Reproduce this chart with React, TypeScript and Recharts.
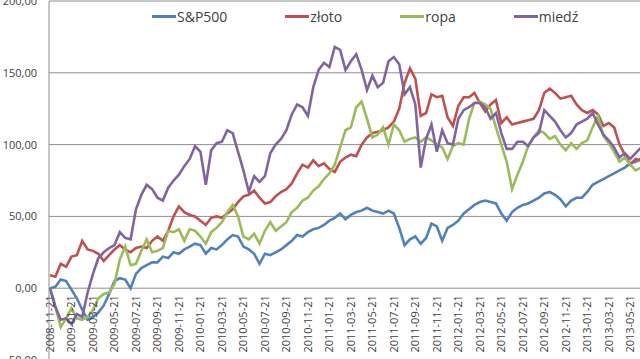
import { LineChart, Line, XAxis, YAxis, CartesianGrid, Legend } from 'recharts'

// tygodniowe notowania zebrane co pół miesiąca, zmiana w % od 2008-11-21
const FIRST_DATE = '2008-11-21'
const LAST_DATE = '2013-06-21'

const TICK_LABELS = [
  '2008-11-21', '2009-01-21', '2009-03-21', '2009-05-21', '2009-07-21', '2009-09-21', '2009-11-21',
  '2010-01-21', '2010-03-21', '2010-05-21', '2010-07-21', '2010-09-21', '2010-11-21',
  '2011-01-21', '2011-03-21', '2011-05-21', '2011-07-21', '2011-09-21', '2011-11-21',
  '2012-01-21', '2012-03-21', '2012-05-21', '2012-07-21', '2012-09-21', '2012-11-21',
  '2013-01-21', '2013-03-21', '2013-05-21',
]

const SP500 = [
  0, 1, 6, 5, -1, -7, -15, -22, -20, -17,
  -12, -4, 5, 7, 6, 0, 10, 14, 16, 18,
  18, 22, 21, 25, 24, 27, 29, 31, 30, 24,
  28, 27, 30, 34, 37, 36, 29, 27, 24, 17,
  24, 23, 25, 27, 30, 33, 37, 36, 39, 41,
  42, 44, 47, 49, 52, 48, 51, 53, 54, 56,
  54, 53, 52, 54, 52, 42, 30, 34, 36, 31,
  35, 45, 43, 33, 42, 44, 47, 52, 55, 58,
  60, 61, 60, 59, 52, 47, 53, 56, 58, 59,
  61, 63, 66, 67, 65, 62, 57, 61, 63, 63,
  67, 72, 74, 76, 78, 80, 82, 84, 87, 88, 90,
]

const ZLOTO = [
  9, 8, 17, 15, 22, 23, 33, 27, 26, 24,
  19, 23, 27, 30, 27, 25, 28, 29, 28, 33,
  36, 33, 40, 50, 57, 53, 51, 50, 47, 44,
  49, 50, 49, 52, 55, 60, 64, 65, 68, 63,
  59, 60, 64, 67, 69, 73, 80, 86, 84, 89,
  85, 87, 83, 81, 88, 91, 93, 92, 100, 105,
  108, 109, 110, 112, 116, 125, 143, 153, 146, 120,
  122, 135, 133, 134, 119, 113, 127, 133, 133, 136,
  129, 123, 128, 131, 115, 119, 114, 115, 116, 117,
  118, 124, 136, 139, 136, 132, 133, 134, 128, 124,
  122, 124, 121, 113, 115, 112, 100, 93, 86, 90, 89,
]

const ROPA = [
  0, -13, -27, -21, -14, -21, -22, -20, -15, -7,
  -4, -3, 3, 20, 29, 16, 17, 26, 34, 25,
  26, 28, 40, 39, 41, 33, 41, 40, 36, 31,
  39, 42, 46, 53, 58, 50, 36, 34, 38, 31,
  40, 46, 40, 43, 46, 53, 56, 61, 63, 68,
  71, 76, 80, 86, 98, 110, 112, 126, 130, 118,
  105, 107, 112, 100, 114, 110, 102, 104, 105, 102,
  105, 103, 100, 98, 90, 99, 101, 100, 118, 129,
  130, 128, 125, 112, 100, 88, 69, 79, 88, 99,
  105, 110, 108, 104, 106, 100, 96, 101, 97, 101,
  103, 112, 120, 106, 101, 95, 88, 91, 86, 82, 84,
]

const MIEDZ = [
  0, -13, -22, -21, -25, -18, -20, -3, 10, 21,
  25, 28, 30, 39, 35, 34, 55, 65, 72, 69,
  63, 61, 70, 75, 79, 85, 90, 99, 95, 72,
  96, 101, 102, 110, 108, 95, 82, 67, 78, 74,
  78, 94, 100, 104, 110, 121, 128, 126, 120, 140,
  152, 157, 154, 168, 166, 152, 158, 163, 152, 138,
  148, 140, 143, 158, 161, 156, 135, 140, 128, 84,
  104, 114, 95, 110, 101, 100, 118, 124, 126, 129,
  129, 126, 118, 122, 108, 97, 97, 102, 102, 99,
  105, 108, 124, 120, 116, 110, 105, 108, 114, 116,
  118, 122, 114, 107, 103, 98, 91, 94, 90, 94, 98,
]

const Y_TICKS = [-50, 0, 50, 100, 150, 200]
const Y_MIN = -50
const Y_MAX = 200

const SERIES = [
  { key: 'sp500', name: 'S&P500', color: '#4F81BD' },
  { key: 'zloto', name: 'złoto', color: '#C0504D' },
  { key: 'ropa', name: 'ropa', color: '#9BBB59' },
  { key: 'miedz', name: 'miedź', color: '#8064A2' },
]

// daty co pół miesiąca: 6. i 21. dzień
function buildDates(): string[] {
  const out: string[] = []
  for (let y = 2008; y <= 2013; y++) {
    for (let m = 1; m <= 12; m++) {
      for (const d of ['06', '21']) {
        const s = `${y}-${String(m).padStart(2, '0')}-${d}`
        if (s >= FIRST_DATE && s <= LAST_DATE) out.push(s)
      }
    }
  }
  return out
}

const DATES = buildDates()

const data = DATES.map((date, i) => ({
  date,
  sp500: SP500[i],
  zloto: ZLOTO[i],
  ropa: ROPA[i],
  miedz: MIEDZ[i],
}))

const FONT = '"Open Sans", "DejaVu Sans", sans-serif'
const CHART_W = 660
const CHART_H = 420
const MARGIN_TOP = 1
const XAXIS_H = 60
const PLOT_H = CHART_H - MARGIN_TOP - XAXIS_H
// oś X przecina oś Y w zerze, więc etykiety dat wiszą pod linią 0
const ZERO_OFFSET = (PLOT_H * (0 - Y_MIN)) / (Y_MAX - Y_MIN)

const formatValue = (v: number) => v.toFixed(2).replace('.', ',')

function DateTick(props: any) {
  const { x, y, payload } = props
  const ty = y - ZERO_OFFSET + 7
  return (
    <text
      x={x}
      y={ty}
      dy="0.35em"
      textAnchor="end"
      transform={`rotate(-90, ${x}, ${ty})`}
      fontSize={11}
      fontFamily={FONT}
      fill="#404040"
    >
      {payload.value}
    </text>
  )
}

// kolejność jak w serii, nie alfabetycznie
function LegendContent(props: any) {
  const payload = [...(props.payload ?? [])].sort(
    (a: any, b: any) =>
      SERIES.findIndex((s) => s.name === a.value) - SERIES.findIndex((s) => s.name === b.value)
  )
  return (
    <div style={{ display: 'flex', paddingLeft: 152, gap: 58, fontFamily: FONT, fontSize: 14, color: '#404040' }}>
      {payload.map((entry: any) => (
        <div key={entry.value} style={{ display: 'flex', alignItems: 'center' }}>
          <span style={{ width: 24, height: 3, background: entry.color, marginRight: 1 }} />
          <span>{entry.value}</span>
        </div>
      ))}
    </div>
  )
}

export default function App() {
  return (
    <div
      style={{
        position: 'absolute',
        left: 0,
        top: 0,
        width: 640,
        height: 359,
        overflow: 'hidden',
        background: '#fff',
      }}
    >
      <LineChart
        width={CHART_W}
        height={CHART_H}
        data={data}
        margin={{ top: MARGIN_TOP, right: 19, left: 0, bottom: 0 }}
      >
        <CartesianGrid vertical={false} stroke="#8e8e8e" />
        <XAxis
          dataKey="date"
          ticks={TICK_LABELS}
          interval={0}
          height={XAXIS_H}
          axisLine={false}
          tickLine={false}
          tickSize={0}
          tickMargin={0}
          padding={{ left: 1, right: 0 }}
          tick={DateTick}
        />
        <YAxis
          width={49}
          domain={[Y_MIN, Y_MAX]}
          ticks={Y_TICKS}
          interval={0}
          tickFormatter={formatValue}
          axisLine={{ stroke: '#8e8e8e' }}
          tickLine={false}
          tickSize={6}
          tickMargin={6}
          tick={{ fontSize: 11, fontFamily: FONT, fill: '#404040' }}
        />
        <Legend
          layout="horizontal"
          verticalAlign="middle"
          align="center"
          wrapperStyle={{ top: 7, left: 0, width: 640 }}
          content={LegendContent}
        />
        {SERIES.map((s) => (
          <Line
            key={s.key}
            type="linear"
            dataKey={s.key}
            name={s.name}
            stroke={s.color}
            strokeWidth={2.6}
            dot={false}
            activeDot={false}
            isAnimationActive={false}
          />
        ))}
      </LineChart>
    </div>
  )
}
